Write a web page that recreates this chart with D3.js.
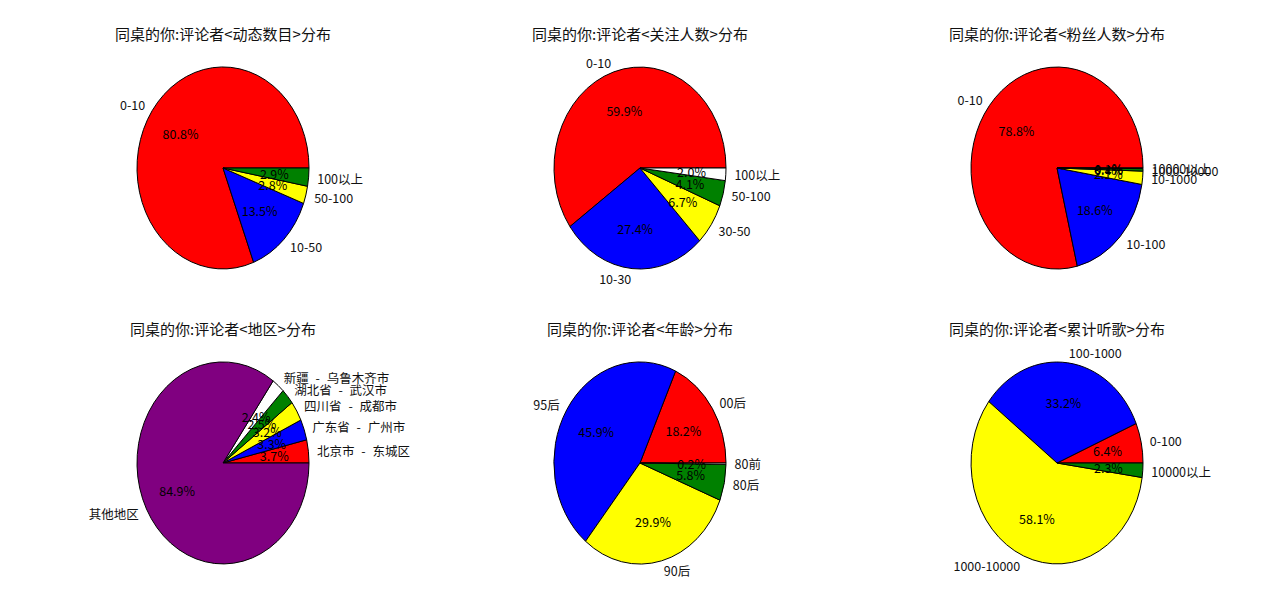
<!DOCTYPE html>
<html>
<head>
<meta charset="utf-8">
<script src="https://cdn.jsdelivr.net/npm/d3@7"></script>
<style>
  html, body { margin: 0; padding: 0; background: #fff; }
  svg { display: block; font-family: "Noto Sans CJK SC", "DejaVu Sans", sans-serif; }
</style>
</head>
<body>
<svg id="chart" width="1280" height="608"></svg>
<script>
// ---- data ----
const colors = ["red", "blue", "yellow", "green", "white", "purple"];

const titles = [
  "同桌的你:评论者<动态数目>分布",
  "同桌的你:评论者<关注人数>分布",
  "同桌的你:评论者<粉丝人数>分布",
  "同桌的你:评论者<地区>分布",
  "同桌的你:评论者<年龄>分布",
  "同桌的你:评论者<累计听歌>分布"
];

const eventLabels = ["0-10", "10-50", "50-100", "100以上"];
const eventValues = [80.8, 13.5, 2.8, 2.9];

const followLabels = ["0-10", "10-30", "30-50", "50-100", "100以上"];
const followValues = [59.9, 27.4, 6.7, 4.1, 2.0];

const fanLabels = ["0-10", "10-100", "10-1000", "1000-10000", "10000以上"];
const fanValues = [78.8, 18.6, 2.1, 0.4, 0.1];

const areaLabels = ["北京市 - 东城区", "广东省 - 广州市", "四川省 - 成都市", "湖北省 - 武汉市", "新疆 - 乌鲁木齐市", "其他地区"];
const areaValues = [3.7, 3.3, 3.2, 2.5, 2.4, 84.9];

const ageLabels = ["00后", "95后", "90后", "80后", "80前"];
const ageValues = [18.2, 45.9, 29.9, 5.8, 0.2];

const listenLabels = ["0-100", "100-1000", "1000-10000", "10000以上"];
const listenValues = [6.4, 33.2, 58.1, 2.3];

const charts = [
  { labels: eventLabels, values: eventValues },
  { labels: followLabels, values: followValues },
  { labels: fanLabels, values: fanValues },
  { labels: areaLabels, values: areaValues },
  { labels: ageLabels, values: ageValues },
  { labels: listenLabels, values: listenValues }
];

// ---- layout ----
const colCenters = [223, 640, 1057];
const rowCenters = [168, 463];
const rx = 86, ry = 101;

const svg = d3.select("#chart");

const pie = d3.pie().sort(null)
  .startAngle(Math.PI / 2)
  .endAngle(Math.PI / 2 - 2 * Math.PI)
  .value(d => d.v);

const arc = d3.arc().innerRadius(0).outerRadius(1);

charts.forEach((c, i) => {
  const cx = colCenters[i % 3];
  const cy = rowCenters[Math.floor(i / 3)];
  const data = c.labels.map((l, j) => ({ l, v: c.values[j], color: colors[j] }));
  const arcs = pie(data);

  const g = svg.append("g").attr("transform", `translate(${cx},${cy})`);

  g.append("text")
    .attr("x", 0).attr("y", -135)
    .attr("text-anchor", "middle")
    .attr("dominant-baseline", "central")
    .attr("font-size", 15)
    .attr("fill", "#111")
    .text(titles[i]);

  const wedges = g.append("g").attr("transform", `scale(${rx},${ry})`);
  wedges.selectAll("path").data(arcs).enter().append("path")
    .attr("d", arc)
    .attr("fill", d => d.data.color)
    .attr("stroke", "#000")
    .attr("stroke-width", 1)
    .attr("stroke-linejoin", "round")
    .attr("vector-effect", "non-scaling-stroke");

  arcs.forEach(a => {
    const mid = (a.startAngle + a.endAngle) / 2;
    const ux = Math.sin(mid), uy = -Math.cos(mid);
    const lx = ux * 1.1 * rx, ly = uy * 1.1 * ry;
    g.append("text")
      .attr("x", lx).attr("y", ly)
      .attr("text-anchor", lx > 0 ? "start" : "end")
      .attr("dominant-baseline", "central")
      .attr("font-size", 12.5)
      .attr("word-spacing", 4)
      .attr("fill", "#111")
      .text(a.data.l);
    g.append("text")
      .attr("x", ux * 0.6 * rx).attr("y", uy * 0.6 * ry)
      .attr("text-anchor", "middle")
      .attr("dominant-baseline", "central")
      .attr("font-size", 12.5)
      .attr("fill", "#000")
      .text(d3.format(".1f")(a.data.v) + "%");
  });
});
</script>
</body>
</html>
